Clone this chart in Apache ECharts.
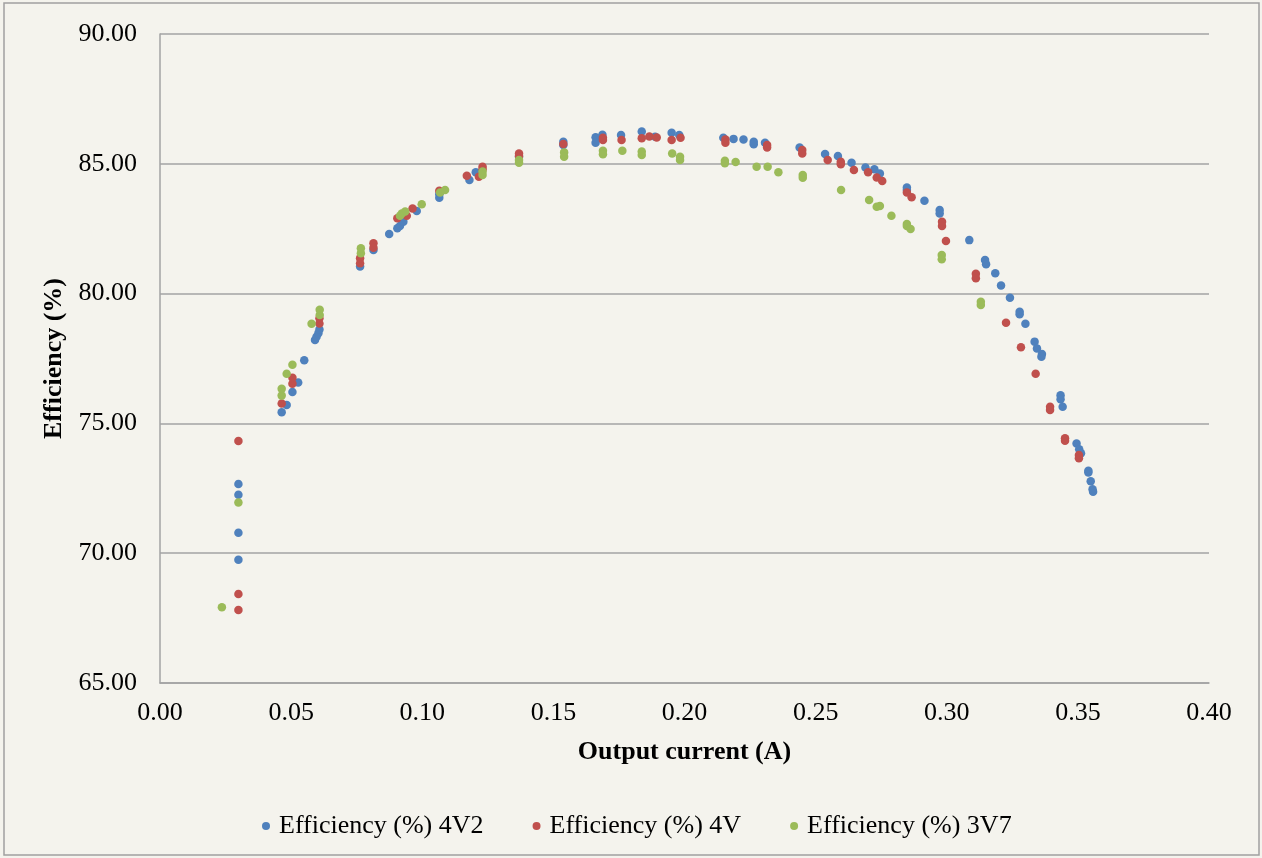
<!DOCTYPE html>
<html>
<head>
<meta charset="utf-8">
<script src="https://cdn.jsdelivr.net/npm/echarts@6/dist/echarts.min.js"></script>
<style>
  html, body { margin: 0; padding: 0; background: #f4f3ed; }
  #chart { width: 1262px; height: 858px; }
</style>
</head>
<body>
<div id="chart"></div>
<script>
// Efficiency vs output current, three supply voltages
const seriesNames = ['Efficiency (%) 4V2', 'Efficiency (%) 4V', 'Efficiency (%) 3V7'];

const current4V2 = [0.0299,0.0299,0.0299,0.0299,0.0464,0.0483,0.0505,0.0527,0.0550,0.0591,0.0597,0.0604,0.0608,
  0.0763,0.0814,0.0874,0.0905,0.0915,0.0928,0.0979,0.1065,0.1065,0.1180,0.1204,0.1369,
  0.1538,0.1538,0.1661,0.1661,0.1687,0.1758,0.1837,0.1888,0.1951,0.1980,
  0.2148,0.2187,0.2225,0.2264,0.2264,0.2307,0.2439,0.2536,0.2585,0.2637,0.2690,0.2724,0.2745,0.2848,0.2848,
  0.2915,0.2973,0.2973,0.3086,0.3146,0.3150,0.3185,0.3207,0.3241,0.3278,0.3278,0.3300,0.3335,0.3344,0.3363,0.3361,
  0.3434,0.3434,0.3442,0.3495,0.3505,0.3512,0.3540,0.3540,0.3549,0.3556,0.3558];
const eff4V2 = [72.67,72.25,70.79,69.75,75.43,75.71,76.21,76.58,77.43,78.21,78.34,78.47,78.62,
  81.04,81.68,82.30,82.52,82.60,82.77,83.18,83.69,83.83,84.38,84.67,85.27,
  85.85,85.72,86.02,85.81,86.12,86.11,86.24,86.04,86.20,86.11,
  86.00,85.96,85.94,85.85,85.75,85.81,85.63,85.38,85.30,85.04,84.86,84.79,84.63,84.09,83.99,
  83.58,83.22,83.09,82.06,81.29,81.13,80.78,80.31,79.84,79.30,79.20,78.84,78.15,77.89,77.67,77.57,
  76.08,75.93,75.64,74.23,74.00,73.85,73.11,73.18,72.77,72.46,72.37];

const current4V = [0.0299,0.0299,0.0299,0.0464,0.0505,0.0505,0.0608,0.0608,
  0.0763,0.0763,0.0814,0.0814,0.0905,0.0941,0.0963,0.1065,0.1170,0.1216,0.1230,0.1230,
  0.1369,0.1369,0.1538,0.1689,0.1689,0.1760,0.1837,0.1866,0.1894,0.1951,0.1985,
  0.2156,0.2156,0.2315,0.2315,0.2449,0.2449,0.2546,0.2596,0.2596,0.2646,0.2700,0.2733,0.2754,0.2848,0.2866,
  0.2982,0.2982,0.2997,0.3111,0.3111,0.3226,0.3283,0.3339,0.3394,0.3394,0.3451,0.3451,0.3504,0.3504];
const eff4V = [74.32,68.43,67.81,75.77,76.53,76.76,78.85,79.05,
  81.17,81.36,81.94,81.77,82.90,83.00,83.28,83.96,84.54,84.50,84.89,84.79,
  85.40,85.30,85.76,86.00,85.92,85.92,85.98,86.05,86.01,85.92,86.00,
  85.94,85.81,85.72,85.63,85.53,85.40,85.15,85.08,84.98,84.76,84.67,84.47,84.34,83.89,83.71,
  82.77,82.60,82.03,80.76,80.59,78.88,77.93,76.91,75.64,75.52,74.43,74.33,73.78,73.66];

const current3V7 = [0.0236,0.0299,0.0464,0.0464,0.0483,0.0505,0.0578,0.0609,0.0609,
  0.0766,0.0766,0.0922,0.0935,0.0915,0.0998,0.1068,0.1087,0.1230,0.1230,
  0.1369,0.1369,0.1541,0.1541,0.1689,0.1689,0.1763,0.1837,0.1837,0.1953,0.1983,0.1983,
  0.2154,0.2154,0.2195,0.2275,0.2317,0.2358,0.2451,0.2451,0.2597,0.2704,0.2733,0.2745,0.2789,
  0.2848,0.2848,0.2862,0.2981,0.2981,0.3130,0.3130];
const eff3V7 = [67.92,71.95,76.07,76.33,76.91,77.26,78.84,79.18,79.38,
  81.55,81.75,83.09,83.16,83.00,83.44,83.89,83.99,84.70,84.57,
  85.15,85.04,85.44,85.27,85.50,85.37,85.50,85.47,85.34,85.40,85.27,85.15,
  85.12,85.02,85.07,84.89,84.89,84.67,84.57,84.46,83.99,83.61,83.35,83.37,83.00,
  82.68,82.60,82.49,81.49,81.32,79.69,79.56];

const seriesColors = ['#4f81bd', '#c0504d', '#9bbb59'];

function pairs(xs, ys) { return xs.map((x, i) => [x, ys[i]]); }
const datasets = [pairs(current4V2, eff4V2), pairs(current4V, eff4V), pairs(current3V7, eff3V7)];

const font = 'Liberation Serif, Times New Roman, serif';
const gridColor = '#a3a3a3';

const chart = echarts.init(document.getElementById('chart'), null, { renderer: 'canvas' });
chart.setOption({
  backgroundColor: '#f4f3ed',
  animation: false,
  textStyle: { fontFamily: font, color: '#000' },
  grid: { left: 160, right: 53, top: 34, bottom: 175 },
  xAxis: {
    type: 'value', min: 0, max: 0.4, interval: 0.05,
    name: 'Output current (A)', nameLocation: 'middle', nameGap: 56,
    nameTextStyle: { fontFamily: font, fontSize: 26, fontWeight: 'bold', color: '#000' },
    axisLine: { show: true, lineStyle: { color: gridColor, width: 1.5 } },
    axisTick: { show: false },
    axisLabel: { fontFamily: font, fontSize: 26, color: '#000', margin: 17,
      formatter: v => v.toFixed(2) },
    splitLine: { show: false }
  },
  yAxis: {
    type: 'value', min: 65, max: 90, interval: 5,
    name: 'Efficiency (%)', nameLocation: 'middle', nameGap: 88, nameRotate: 90,
    nameTextStyle: { fontFamily: font, fontSize: 26, fontWeight: 'bold', color: '#000' },
    axisLine: { show: true, lineStyle: { color: gridColor, width: 1.5 } },
    axisTick: { show: false },
    axisLabel: { fontFamily: font, fontSize: 26, color: '#000', margin: 23,
      formatter: v => v.toFixed(2) },
    splitLine: { show: true, lineStyle: { color: gridColor, width: 1.5 } }
  },
  legend: {
    left: 257, top: 808,
    itemWidth: 8, itemHeight: 8, itemGap: 49,
    icon: 'circle',
    textStyle: { fontFamily: font, fontSize: 26, color: '#000', padding: [0, 0, 0, 4] },
    data: seriesNames
  },
  graphic: [{
    type: 'rect', silent: true, z: -1,
    shape: { x: 4, y: 3, width: 1255, height: 852 },
    style: { fill: 'none', stroke: '#a0a0a0', lineWidth: 1.5 }
  }],
  series: seriesNames.map((name, i) => ({
    name, type: 'scatter', symbol: 'circle', symbolSize: 8.5,
    itemStyle: { color: seriesColors[i], opacity: 1 },
    data: datasets[i]
  }))
});
</script>
</body>
</html>
